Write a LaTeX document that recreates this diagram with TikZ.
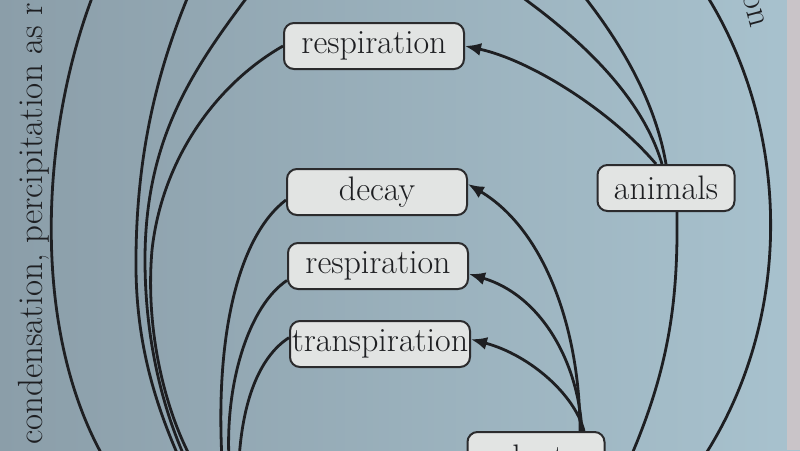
\documentclass[tikz,border=0pt]{standalone}
\usetikzlibrary{arrows.meta}
\definecolor{paperL}{HTML}{8B9EA9}
\definecolor{paperR}{HTML}{A8C2CE}
\definecolor{edge}{HTML}{C9C4C8}
\definecolor{boxfill}{HTML}{E2E4E3}
\definecolor{boxline}{HTML}{2B2B2D}
\definecolor{ink}{HTML}{1E1F22}
\tikzset{
	box/.style={draw=boxline,line width=2pt,rounded corners=10pt,fill=boxfill,
		minimum height=46pt,inner sep=1pt,text=ink,font=\fontsize{34}{40}\selectfont},
	proc/.style={box,minimum width=180pt},
	org/.style={box,minimum width=137pt},
	link/.style={draw=ink,line width=2.8pt},
	flow/.style={link,-{Latex[length=16pt,width=13pt]}},
	lbl/.style={text=ink,inner sep=0pt,font=\fontsize{35}{40}\selectfont}
}
\begin{document}
\begin{tikzpicture}[x=1pt,y=-1pt]
	\useasboundingbox (0,0) rectangle (800,450);
	\clip (0,0) rectangle (800,450);
	\shade[left color=paperL,right color=paperR] (0,0) rectangle (800,450);
	\fill[edge] (787,0) rectangle (800,450);
	\foreach \x/\y/\nm/\texn in {374/46/resp1/respiration,
	377/192/decay/decay,378/266/resp2/respiration,380/344/transp/transpiration}
	\node[proc] (\nm) at (\x,\y) {\texn};
	\node[org] (animals) at (666,188) {animals};
	\node[org,text height=30pt,text depth=3pt] (plants) at (536,455) {plants};
	% ends outside the frame
	\coordinate (tl0) at (95,-10);
	\coordinate (tl1) at (195,-20);
	\coordinate (tl2) at (260,-20);
	\coordinate (tr1) at (505,-15);
	\coordinate (tr2) at (575,-15);
	\coordinate (tr3) at (700,-15);
	\coordinate (bl0) at (105,460);
	\coordinate (bl1) at (180,460);
	\coordinate (bl2) at (186,460);
	\coordinate (bl3) at (192,460);
	\coordinate (bl4) at (222,460);
	\coordinate (bl5) at (229,460);
	\coordinate (bl6) at (239,460);
	\coordinate (br1) at (625,470);
	\coordinate (br2) at (695,470);
	\node[lbl,rotate=90,anchor=west] (cond) at (34,445) {condensation, percipitation as r};
	\node[lbl,rotate=-75,anchor=east] (evap) at (762,26) {tion};
	% outer arcs
	\draw[link] (tl0) .. controls (40,130) and (30,330) .. (bl0);
	\draw[link] (tr3) .. controls (790,120) and (800,320) .. (br2);
	% left side
	\draw[link] (tl1) .. controls (160,60) and (135,150) .. (136,270)
	.. controls (137,350) and (158,410) .. (bl1);
	\draw[link] (tl2) .. controls (200,60) and (145,130) .. (145,260)
	.. controls (145,340) and (163,410) .. (bl2);
	\draw[link] (resp1.west) .. controls (215,85) and (162,160) .. (152,250)
	.. controls (145,330) and (165,410) .. (bl3);
	\draw[link] (decay.185) .. controls (240,235) and (215,330) .. (bl4);
	\draw[link] (resp2.189) .. controls (250,305) and (225,380) .. (bl5);
	\draw[link] (transp.176) .. controls (262,355) and (243,395) .. (bl6);
	% animals
	\draw[flow] ([xshift=-10pt]animals.north) .. controls (610,110) and (530,60) .. (resp1.east);
	\draw[link] ([xshift=-4pt]animals.north) .. controls (640,90) and (570,30) .. (tr1);
	\draw[link] (animals.north) .. controls (655,100) and (620,40) .. (tr2);
	\draw[link] ([xshift=11pt]animals.south) .. controls (678,300) and (670,370) .. (br1);
	% plants
	\draw[flow] ([xshift=44pt]plants.north) .. controls (580,330) and (545,230) .. (decay.5);
	\draw[flow] ([xshift=46pt]plants.north) .. controls (578,360) and (540,295) .. (resp2.-5);
	\draw[flow] ([xshift=48pt]plants.north) .. controls (575,395) and (530,355) .. (transp.3);
\end{tikzpicture}
\end{document}
